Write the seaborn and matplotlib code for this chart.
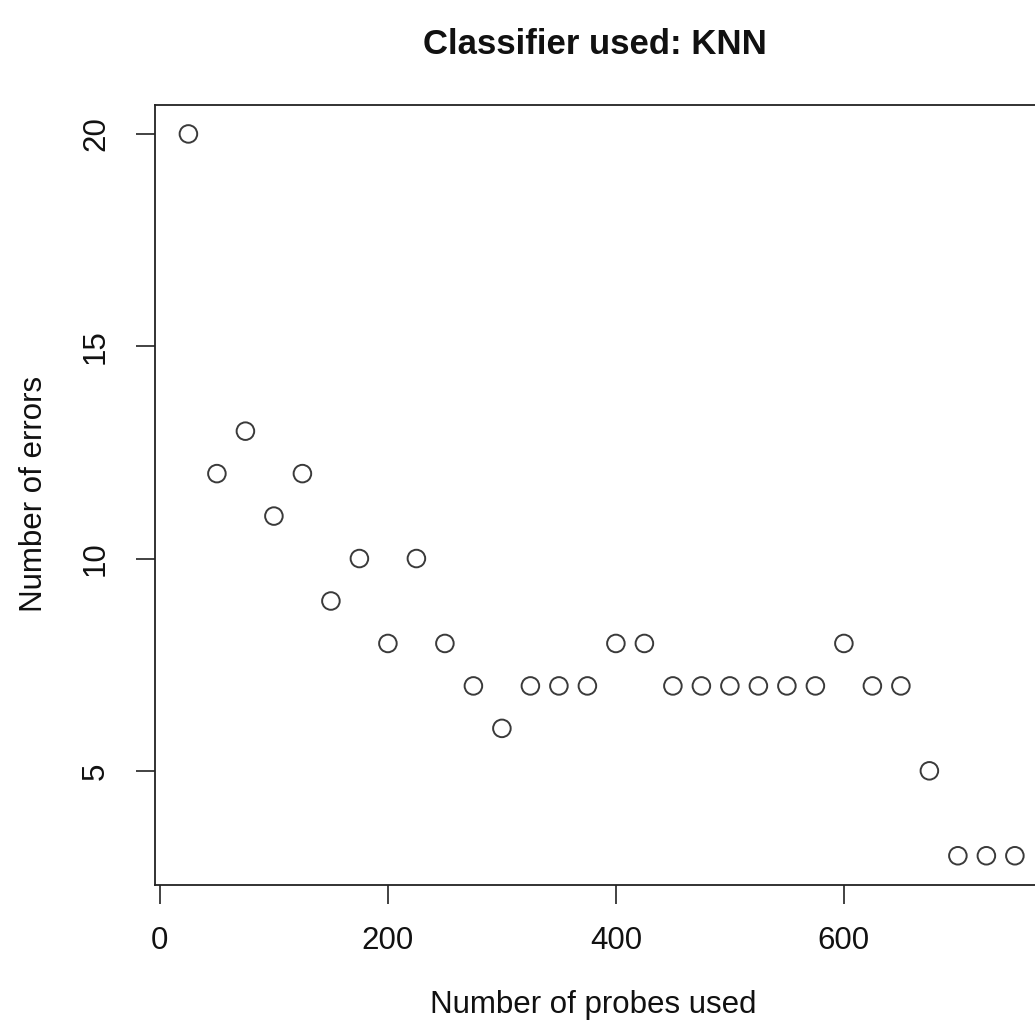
import matplotlib
matplotlib.use('Agg')
import matplotlib.pyplot as plt
import pandas as pd
import seaborn as sns

probes = [25, 50, 75, 100, 125, 150, 175, 200, 225, 250, 275, 300, 325, 350, 375,
          400, 425, 450, 475, 500, 525, 550, 575, 600, 625, 650, 675, 700, 725, 750]
errors = [20, 12, 13, 11, 12, 9, 10, 8, 10, 8, 7, 6, 7, 7, 7,
          8, 8, 7, 7, 7, 7, 7, 7, 8, 7, 7, 5, 3, 3, 3]
xticks = [0, 200, 400, 600]
yticks = [5, 10, 15, 20]

data = pd.DataFrame({'probes': probes, 'errors': errors})

sns.set_style('ticks')
plt.rcParams['font.family'] = ['Liberation Sans', 'DejaVu Sans']

fig = plt.figure(figsize=(10.35, 10.29), dpi=100)
ax = fig.add_axes([0.1501, 0.1403, 0.8624, 0.7576])

sns.scatterplot(x='probes', y='errors', data=data, ax=ax, marker='o',
                s=160, facecolor='none', edgecolor='#3a3a3a', linewidth=1.4)

# R style padding of 4% on each side
xr = max(probes) - min(probes)
yr = max(errors) - min(errors)
ax.set_xlim(min(probes) - 0.04 * xr, max(probes) + 0.04 * xr)
ax.set_ylim(min(errors) - 0.04 * yr, max(errors) + 0.04 * yr)

ax.set_xticks(xticks)
ax.set_yticks(yticks)
ax.tick_params(axis='both', length=14, width=1.2, color='#222222',
               labelsize=22.5, labelcolor='#111111')
ax.tick_params(axis='x', pad=16)
ax.tick_params(axis='y', pad=18)
for lab in ax.get_yticklabels():
    lab.set_rotation(90)
    lab.set_va('center')
for sp in ax.spines.values():
    sp.set_visible(True)
    sp.set_linewidth(1.3)
    sp.set_color('#222222')

ax.set_xlabel('')
ax.set_ylabel('')
fig.text(0.573, 0.023, 'Number of probes used', ha='center', va='center', fontsize=22.5,
         color='#111111')
fig.text(0.033, 0.52, 'Number of errors', ha='center', va='center', fontsize=22.5,
         rotation=90, color='#111111')
fig.text(0.575, 0.957, 'Classifier used: KNN', ha='center', va='center', fontsize=25,
         fontweight='bold', color='#111111')

fig.savefig('out.png', dpi=100)
